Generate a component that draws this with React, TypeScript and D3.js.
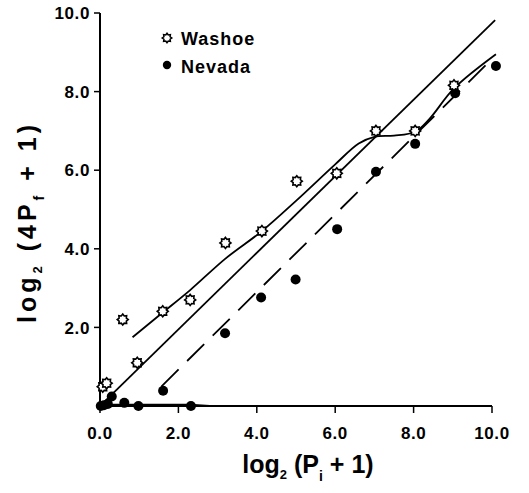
import React from 'react';
import * as d3 from 'd3';

const xTicks = [0, 2, 4, 6, 8, 10];
const yTicks = [2, 4, 6, 8, 10];

const washoeX = [0.07, 0.17, 0.58, 0.95, 1.6, 2.3, 3.2, 4.13, 5.02, 6.04, 7.04, 8.04, 9.03];
const washoeY = [0.49, 0.58, 2.2, 1.1, 2.41, 2.7, 4.15, 4.45, 5.72, 5.92, 7.0, 7.0, 8.16];

const nevadaX = [0.02, 0.1, 0.2, 0.3, 0.62, 0.98, 1.61, 2.32, 3.19, 4.11, 4.99, 6.05, 7.04, 8.04, 9.06, 10.1];
const nevadaY = [0.0, 0.02, 0.05, 0.24, 0.08, 0.0, 0.39, 0.0, 1.85, 2.76, 3.22, 4.5, 5.96, 6.67, 7.96, 8.65];

// fitted lines
const lineAX = [0.05, 10.08];
const lineAY = [0.05, 9.82];
const curveBX = [0.83, 1.6, 2.3, 3.2, 4.13, 5.0, 6.0, 6.6, 7.0, 7.5, 8.04, 8.4, 9.03, 10.1];
const curveBY = [1.75, 2.38, 2.95, 3.75, 4.45, 5.22, 6.15, 6.68, 6.85, 6.88, 6.98, 7.3, 8.08, 8.95];
const dashCX = [1.57, 10.05];
const dashCY = [0.5, 8.88];
const lowDX = [0.0, 2.3, 2.8, 10.0];
const lowDY = [0.03, 0.03, 0.0, 0.0];

const FONT = '"Liberation Sans", Arial, Helvetica, sans-serif';

function starPath(cx: number, cy: number, ro: number, ri: number, n: number) {
  const pts: [number, number][] = [];
  for (let i = 0; i < n * 2; i++) {
    const r = i % 2 === 0 ? ro : ri;
    const a = (Math.PI * i) / n - Math.PI / 2;
    pts.push([cx + r * Math.cos(a), cy + r * Math.sin(a)]);
  }
  return 'M' + pts.map((p) => p.join(',')).join('L') + 'Z';
}

export default function App() {
  const x = d3.scaleLinear().domain([0, 10]).range([100, 492]);
  const y = d3.scaleLinear().domain([0, 10]).range([406, 13]);
  const line = d3.line<[number, number]>().x((d) => x(d[0])).y((d) => y(d[1]));
  const curve = d3
    .line<[number, number]>()
    .x((d) => x(d[0]))
    .y((d) => y(d[1]))
    .curve(d3.curveCatmullRom.alpha(0.5));
  const zip = (a: number[], b: number[]) => a.map((v, i) => [v, b[i]] as [number, number]);

  return (
    <svg
      width={529}
      height={493}
      style={{ position: 'absolute', left: 0, top: 0, background: '#fff' }}
      fontFamily={FONT}
      fontWeight="bold"
    >
      <rect width={529} height={493} fill="#fff" />
      {/* axes */}
      <line x1={x(0)} y1={y(10)} x2={x(0)} y2={y(0) + 1} stroke="#000" strokeWidth={2} />
      <line x1={x(0) - 1} y1={y(0)} x2={x(10)} y2={y(0)} stroke="#000" strokeWidth={2} />
      {xTicks.map((t) => (
        <g key={'xt' + t}>
          <line x1={x(t)} x2={x(t)} y1={y(0)} y2={y(0) + 7} stroke="#000" strokeWidth={1.5} />
          <text x={x(t)} y={439} textAnchor="middle" fontSize={17} letterSpacing={0.6}>
            {t.toFixed(1)}
          </text>
        </g>
      ))}
      {yTicks.map((t) => (
        <g key={'yt' + t}>
          <line x1={x(0) - 6} x2={x(0)} y1={y(t)} y2={y(t)} stroke="#000" strokeWidth={1.5} />
          <text x={90} y={y(t)} dy="0.36em" textAnchor="end" fontSize={17} letterSpacing={0.6}>
            {t.toFixed(1)}
          </text>
        </g>
      ))}
      {/* axis titles */}
      <text x={308} y={473} textAnchor="middle" fontSize={25}>
        log
        <tspan fontSize={13} dy={6}>2</tspan>
        <tspan dy={-6}> (P</tspan>
        <tspan fontSize={14} dy={8}>i</tspan>
        <tspan dy={-8}> + 1)</tspan>
      </text>
      <text
        transform={`translate(36,222) rotate(-90)`}
        textAnchor="middle"
        fontSize={25}
        letterSpacing={4}
      >
        log
        <tspan fontSize={13} dy={6}>2</tspan>
        <tspan dy={-6}> (4P</tspan>
        <tspan fontSize={14} dy={8}>f</tspan>
        <tspan dy={-8}> + 1)</tspan>
      </text>

      {/* fitted lines */}
      <path d={line(zip(lineAX, lineAY)) || ''} fill="none" stroke="#000" strokeWidth={1.8} />
      <path d={curve(zip(curveBX, curveBY)) || ''} fill="none" stroke="#000" strokeWidth={1.8} />
      <path
        d={line(zip(dashCX, dashCY)) || ''}
        fill="none"
        stroke="#000"
        strokeWidth={1.8}
        strokeDasharray="24,12"
      />
      <path d={line(zip(lowDX, lowDY)) || ''} fill="none" stroke="#000" strokeWidth={2.2} />

      {/* points */}
      {nevadaX.map((v, i) => (
        <circle key={'n' + i} cx={x(v)} cy={y(nevadaY[i])} r={5} fill="#000" />
      ))}
      {washoeX.map((v, i) => (
        <path
          key={'w' + i}
          d={starPath(x(v), y(washoeY[i]), 5.5, 3.9, 8)}
          fill="#fff"
          stroke="#000"
          strokeWidth={1.6}
        />
      ))}

      {/* legend */}
      <path d={starPath(167, 38, 4.8, 3.3, 8)} fill="#fff" stroke="#000" strokeWidth={1.5} />
      <text x={181} y={45} fontSize={18} letterSpacing={1}>Washoe</text>
      <circle cx={167} cy={65} r={4.2} fill="#000" />
      <text x={181} y={73} fontSize={18} letterSpacing={1}>Nevada</text>
    </svg>
  );
}
